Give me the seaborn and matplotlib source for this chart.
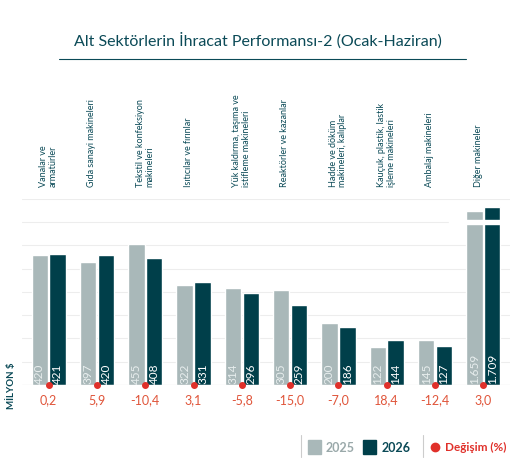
import matplotlib
matplotlib.use("Agg")
import matplotlib.pyplot as plt
import seaborn as sns
import pandas as pd

categories = ["Vanalar ve\narmatürler", "Gıda sanayi makineleri", "Tekstil ve konfeksiyon\nmakineleri",
              "Isıtıcılar ve fırınlar", "Yük kaldırma, taşıma ve\nistifleme makineleri",
              "Reaktörler ve kazanlar", "Hadde ve döküm\nmakineleri, kalıplar",
              "Kauçuk, plastik, lastik\nişleme makineleri", "Ambalaj makineleri", "Diğer makineler"]
values_2025 = [420, 397, 455, 322, 314, 305, 200, 122, 145, 1659]
values_2026 = [421, 420, 408, 331, 296, 259, 186, 144, 127, 1709]
labels_2025 = ["420", "397", "455", "322", "314", "305", "200", "122", "145", "1.659"]
labels_2026 = ["421", "420", "408", "331", "296", "259", "186", "144", "127", "1.709"]
changes = ["0,2", "5,9", "-10,4", "3,1", "-5,8", "-15,0", "-7,0", "18,4", "-12,4", "3,0"]
# the last group is drawn with a broken axis: shown heights
broken_shown = {"2025": 560, "2026": 575}
break_level = 520

GREY = "#A9B8B9"
DARK = "#003F4A"
RED = "#E0302A"
TEAL = "#0B4A57"
ORANGE = "#E0553A"

sns.set_style("white")
plt.rcParams["font.family"] = ["Lato", "DejaVu Sans"]

rows = []
for i, c in enumerate(categories):
    for yr, vals in (("2025", values_2025), ("2026", values_2026)):
        v = vals[i]
        shown = broken_shown[yr] if i == len(categories) - 1 else v
        rows.append({"cat": c, "year": yr, "shown": shown})
df = pd.DataFrame(rows)

fig = plt.figure(figsize=(5.15, 4.77), dpi=100)
ax = fig.add_axes([0.043, 0.191, 0.947, 0.39])
sns.barplot(data=df, x="cat", y="shown", hue="year", order=categories,
            palette={"2025": GREY, "2026": DARK}, width=0.74, gap=0.08,
            ax=ax, legend=False, saturation=1)
ax.set_ylim(0, 600)
ax.set_yticks(range(0, 601, 75))
ax.yaxis.grid(True, color="#EDEDED", lw=0.8)
ax.set_axisbelow(True)
ax.tick_params(left=False, bottom=False, labelleft=False, labelbottom=False)
for s in ax.spines.values():
    s.set_visible(False)
ax.axhline(0, color="#D5D5D5", lw=0.8)
ax.set_xlim(-0.55, len(categories) - 0.45)
ax.set_xlabel("")
ax.set_ylabel("MİLYON $", color=TEAL, fontsize=7, fontweight="bold", labelpad=2)
ax.yaxis.set_label_coords(-0.012, 0.0, transform=ax.transAxes)
ax.yaxis.label.set_va("bottom")

# break band on last group
n = len(categories)
ax.axhspan(break_level, break_level + 12, xmin=(n - 1 - 0.5 + 0.55) / (n + 0.1) - 0.02, xmax=1,
           color="white", zorder=5)

patches = ax.patches
lab_all = labels_2025 + labels_2026
for p, lab in zip(patches, lab_all):
    x = p.get_x() + p.get_width() / 2
    col = "#E8EEEE" if p.get_facecolor()[0] > 0.5 else "white"
    ax.text(x, 6, lab, rotation=90, ha="center", va="bottom", color=col, fontsize=8.5, zorder=6)

for i, ch in enumerate(changes):
    ax.plot(i, 0, "o", color=RED, ms=4, clip_on=False, zorder=7)
    ax.text(i, -45, ch, ha="center", va="center", color=ORANGE, fontsize=9)
    ax.text(i - 0.2, 640, categories[i], rotation=90, ha="left", va="bottom",
            color=TEAL, fontsize=6.5, linespacing=1.1, multialignment="left")

fig.text(0.5, 0.915, "Alt Sektörlerin İhracat Performansı-2 (Ocak-Haziran)",
         ha="center", va="center", color=TEAL, fontsize=11.5)
fig.add_artist(plt.Line2D([0.115, 0.905], [0.875, 0.875], color=TEAL, lw=0.8))

# legend
fig.patches.append(plt.Rectangle((0.598, 0.047), 0.026, 0.028, color=GREY, transform=fig.transFigure))
fig.text(0.633, 0.061, "2025", color="#9AA9AA", fontsize=9, va="center", fontweight="bold")
fig.patches.append(plt.Rectangle((0.705, 0.047), 0.026, 0.028, color=DARK, transform=fig.transFigure))
fig.text(0.740, 0.061, "2026", color=TEAL, fontsize=9, va="center", fontweight="bold")
fig.add_artist(plt.Line2D([0.822, 0.822], [0.04, 0.085], color="#CCCCCC", lw=0.8))
fig.add_artist(plt.Line2D([0.585, 0.585], [0.04, 0.085], color="#CCCCCC", lw=0.8))
fig.add_artist(plt.Line2D([0.845], [0.061], marker="o", color=RED, ms=6))
fig.text(0.865, 0.061, "Değişim (%)", color=RED, fontsize=8.5, va="center", fontweight="bold")

fig.savefig("out.png", dpi=100)
